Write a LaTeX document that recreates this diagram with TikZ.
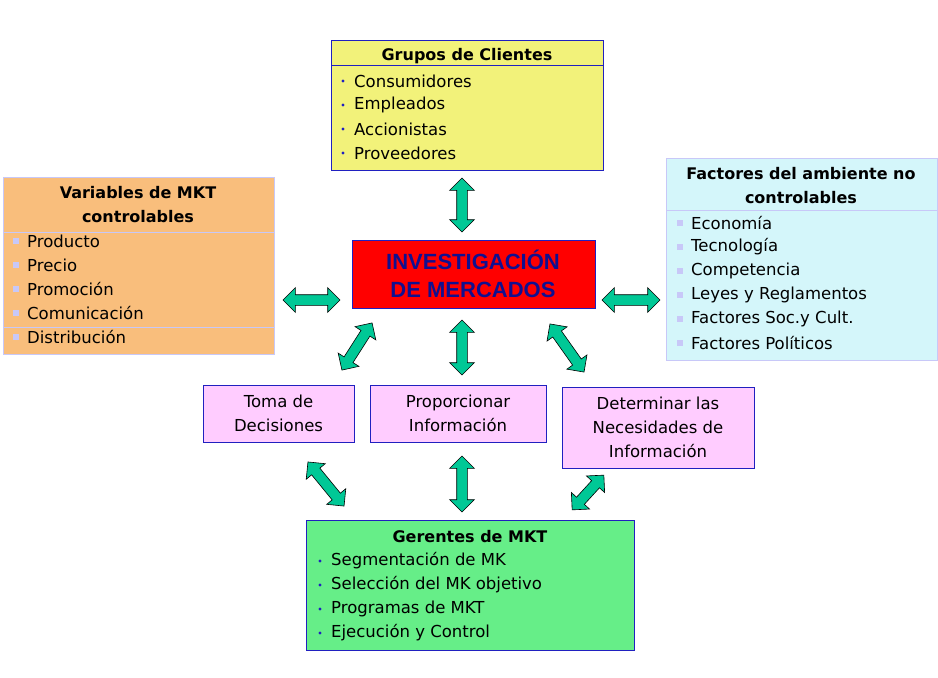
\documentclass[tikz,border=0pt]{standalone}
\usepackage{fontspec}
\setmainfont{DejaVu Sans}
\newfontfamily\arialf{Liberation Sans}
\usetikzlibrary{shapes.arrows}
\definecolor{bord}{HTML}{2020C0}
\definecolor{yel}{HTML}{F2F27A}
\definecolor{ora}{HTML}{F9BE7C}
\definecolor{cya}{HTML}{D4F6FA}
\definecolor{pnk}{HTML}{FFCCFF}
\definecolor{grn}{HTML}{66EE88}
\definecolor{arr}{HTML}{00C896}
\definecolor{lav}{HTML}{C8C8F8}
\definecolor{tblue}{HTML}{101090}
\begin{document}
\begin{tikzpicture}[x=1pt,y=-1pt,
  box/.style={draw=bord,line width=0.6pt},
  txt/.style={font=\fontsize{16.5}{24}\selectfont,inner sep=0pt,anchor=west},
  head/.style={font=\fontsize{16}{24}\selectfont\bfseries,inner sep=0pt,align=center},
  mid/.style={font=\fontsize{16.5}{24}\selectfont,inner sep=0pt,align=center},
  dbl/.style={shape=double arrow,draw=black,fill=arr,line width=0.6pt,inner xsep=0pt,inner ysep=5pt,double arrow head extend=7pt,minimum height=#1},
  blt/.style={fill=bord,circle,minimum size=3.2pt,inner sep=0pt},
  sq/.style={fill=lav,minimum size=6pt,inner sep=0pt}]
\useasboundingbox (0,0) rectangle (938,678);
% Grupos de Clientes
\draw[box,fill=yel] (331,40) rectangle (603,170);
\draw[bord,line width=0.5pt] (331,65) -- (603,65);
\node[head] (g0) at (467,56) {Grupos de Clientes};
\foreach \t [count=\i] in {Consumidores,Empleados,Accionistas,Proveedores}{
  \node[blt] at (343,57+24*\i) {};
  \node[txt] (g\i) at (354,57+24*\i) {\t};}
% Variables
\draw[draw=lav,line width=0.8pt,fill=ora] (3,177) rectangle (274,354);
\draw[lav,line width=0.5pt] (3,232) -- (274,232) (3,327) -- (274,327);
\node[head] (v0) at (138,205) {Variables de MKT\\controlables};
\foreach \t [count=\i] in {Producto,Precio,Promoción,Comunicación,Distribución}{
  \node[sq] at (16,217+24*\i) {};
  \node[txt] (v\i) at (27,217+24*\i) {\t};}
% Factores
\draw[draw=lav,line width=0.8pt,fill=cya] (666,158) rectangle (937,360);
\draw[lav,line width=0.5pt] (666,210) -- (937,210);
\node[head] (f0) at (801,186) {Factores del ambiente no\\controlables};
\foreach \t [count=\i] in {Economía,Tecnología,Competencia,Leyes y Reglamentos,Factores Soc.y Cult.,Factores Políticos}{
  \node[sq] at (680,199+24*\i) {};
  \node[txt] (f\i) at (691,199+24*\i) {\t};}
% Investigacion
\draw[box,line width=0.8pt,fill=red] (352,240) rectangle (595,308);
\node[font=\arialf\fontsize{22}{28}\selectfont\bfseries,text=tblue,align=center] (inv) at (473,274) {INVESTIGACIÓN\\DE MERCADOS};
% middle boxes
\draw[box,fill=pnk] (203,385) rectangle (354,442);
\node[mid] (toma) at (278.5,413) {Toma de\\Decisiones};
\draw[box,fill=pnk] (370,385) rectangle (546,442);
\node[mid] (prop) at (458,413) {Proporcionar\\Información};
\draw[box,fill=pnk] (562,387) rectangle (754,468);
\node[mid] (det) at (658,427) {Determinar las\\Necesidades de\\Información};
% Gerentes
\draw[box,fill=grn] (306,520) rectangle (634,650);
\node[head] (ge0) at (470,537) {Gerentes de MKT};
\foreach \t [count=\i] in {Segmentación de MK,Selección del MK objetivo,Programas de MKT,Ejecución y Control}{
  \node[blt] at (320,537+24*\i) {};
  \node[txt] (ge\i) at (331,537+24*\i) {\t};}
% arrows
\node[dbl=54pt,rotate=90] (a1) at (462,205) {};
\node[dbl=57pt] (a2) at (311.5,300) {};
\node[dbl=58pt] (a3) at (631,300) {};
\node[dbl=56pt,rotate=57.4] (a4) at (357,346.5) {};
\node[dbl=55pt,rotate=90] (a5) at (462,347.5) {};
\node[dbl=59pt,rotate=-54.7] (a6) at (567,348) {};
\node[dbl=57pt,rotate=-50.7] (a7) at (326,484) {};
\node[dbl=56pt,rotate=90] (a8) at (462,484) {};
\node[dbl=47pt,rotate=47.6] (a9) at (588,492.5) {};
\end{tikzpicture}
\end{document}
